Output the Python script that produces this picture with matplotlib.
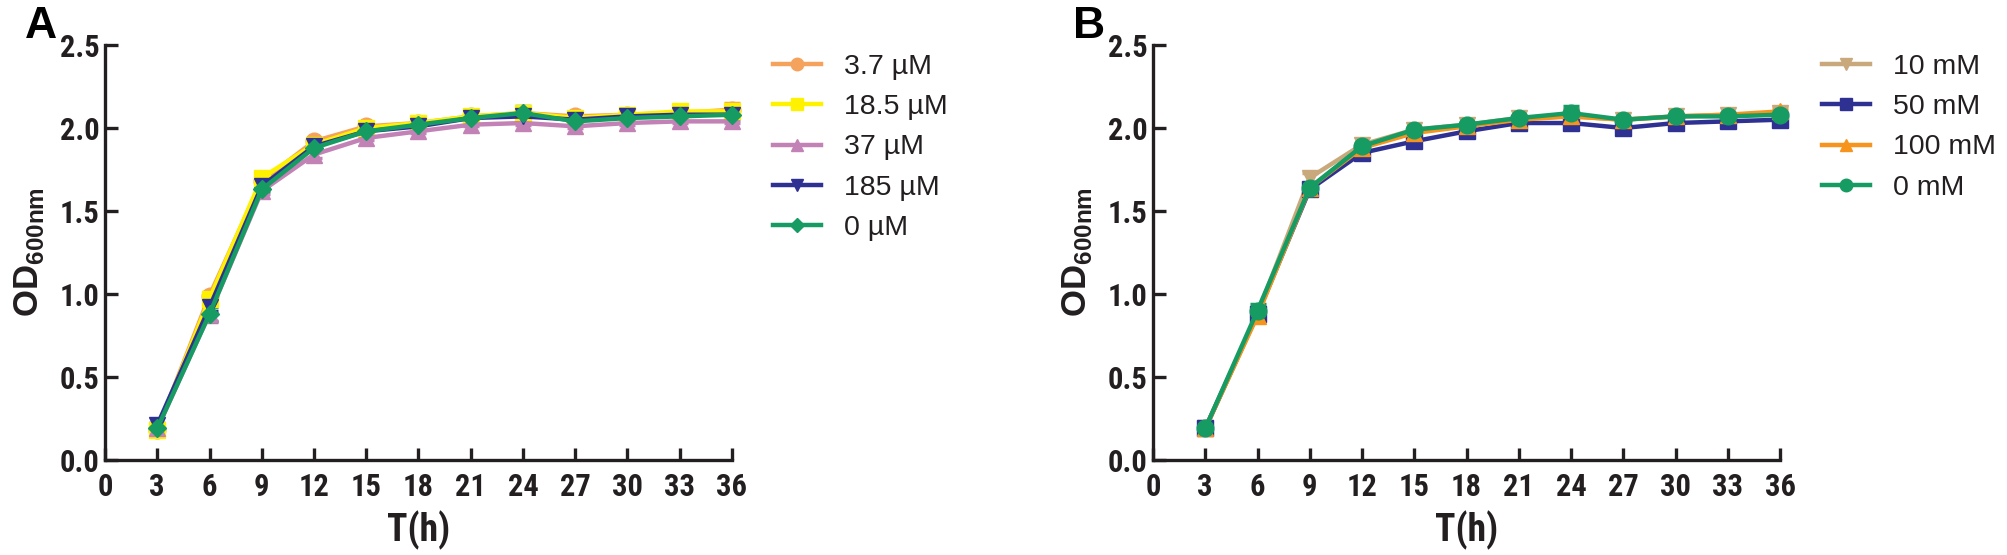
import matplotlib

matplotlib.use("agg")
import matplotlib.pyplot as plt
from matplotlib import font_manager

# time points (h)
hours = [3, 6, 9, 12, 15, 18, 21, 24, 27, 30, 33, 36]
x_ticks = list(range(0, 37, 3))
y_ticks = [0.0, 0.5, 1.0, 1.5, 2.0, 2.5]

# panel A
labels_a = ["3.7 µM", "18.5 µM", "37 µM", "185 µM", "0 µM"]
od_a_3_7 = [0.18, 0.99, 1.68, 1.92, 2.01, 2.03, 2.07, 2.09, 2.07, 2.08, 2.09, 2.11]
od_a_18_5 = [0.18, 0.97, 1.70, 1.90, 2.00, 2.03, 2.07, 2.09, 2.06, 2.08, 2.10, 2.10]
od_a_37 = [0.19, 0.88, 1.62, 1.84, 1.94, 1.98, 2.02, 2.03, 2.01, 2.03, 2.04, 2.04]
od_a_185 = [0.21, 0.92, 1.65, 1.89, 1.98, 2.01, 2.06, 2.07, 2.05, 2.07, 2.08, 2.08]
od_a_0 = [0.19, 0.88, 1.63, 1.88, 1.98, 2.02, 2.06, 2.09, 2.04, 2.06, 2.07, 2.08]
sd_a_3_7 = [0.01, 0.02, 0.02, 0.01, 0.01, 0.01, 0.01, 0.01, 0.01, 0.01, 0.01, 0.04]
sd_a_18_5 = [0.01, 0.02, 0.03, 0.01, 0.01, 0.01, 0.01, 0.01, 0.01, 0.01, 0.01, 0.01]
sd_a_37 = [0.01, 0.05, 0.02, 0.02, 0.01, 0.01, 0.01, 0.01, 0.01, 0.01, 0.01, 0.01]
sd_a_185 = [0.01, 0.02, 0.01, 0.01, 0.01, 0.01, 0.01, 0.01, 0.01, 0.01, 0.01, 0.01]
sd_a_0 = [0.01, 0.04, 0.01, 0.01, 0.01, 0.02, 0.01, 0.04, 0.01, 0.01, 0.01, 0.02]

# panel B
labels_b = ["10 mM", "50 mM", "100 mM", "0 mM"]
od_b_10 = [0.19, 0.88, 1.70, 1.90, 1.99, 2.02, 2.06, 2.07, 2.05, 2.07, 2.08, 2.09]
od_b_50 = [0.19, 0.88, 1.63, 1.85, 1.92, 1.98, 2.03, 2.03, 2.00, 2.03, 2.04, 2.05]
od_b_100 = [0.19, 0.87, 1.64, 1.88, 1.97, 2.01, 2.05, 2.07, 2.05, 2.07, 2.08, 2.10]
od_b_0 = [0.19, 0.90, 1.64, 1.89, 1.99, 2.02, 2.06, 2.09, 2.05, 2.07, 2.07, 2.08]
sd_b_10 = [0.01, 0.02, 0.03, 0.01, 0.01, 0.01, 0.01, 0.01, 0.01, 0.01, 0.01, 0.01]
sd_b_50 = [0.01, 0.02, 0.01, 0.02, 0.01, 0.01, 0.01, 0.01, 0.02, 0.01, 0.01, 0.01]
sd_b_100 = [0.01, 0.03, 0.01, 0.01, 0.01, 0.01, 0.01, 0.01, 0.01, 0.01, 0.01, 0.02]
sd_b_0 = [0.01, 0.04, 0.01, 0.01, 0.01, 0.01, 0.01, 0.04, 0.01, 0.01, 0.01, 0.01]

colors_a = ["#F5A25D", "#FFF200", "#C282B5", "#2E3192", "#169B62"]
markers_a = ["o", "s", "^", "v", "D"]
colors_b = ["#C9A97C", "#2E3192", "#F7941D", "#169B62"]
markers_b = ["v", "s", "^", "o"]

names = {f.name for f in font_manager.fontManager.ttflist}
narrow = "Liberation Sans"
for cand in ["Liberation Sans Narrow", "Roboto Condensed", "Open Sans Condensed"]:
    if cand in names:
        narrow = cand
        break

plt.rcParams["font.family"] = ["Liberation Sans", "DejaVu Sans"]
plt.rcParams["mathtext.fontset"] = "custom"
plt.rcParams["mathtext.rm"] = "Liberation Sans:bold"
plt.rcParams["mathtext.bf"] = "Liberation Sans:bold"
TXT = "#231F20"

W, H = 2007, 555
fig = plt.figure(figsize=(W / 100, H / 100), dpi=100)


def panel(left_px, series, sds, labels, colors, markers, letter, leg_x):
    ax = fig.add_axes([left_px / W, 1 - 460 / H, 627 / W, 415 / H])
    for od, sd, lab, c, m in zip(series, sds, labels, colors, markers):
        ms = 9 if m == "D" else 12
        ax.errorbar(hours, od, yerr=sd, color=c, marker=m, markersize=ms, lw=3.2,
                    elinewidth=2.5, capsize=6, capthick=2.5, label=lab, clip_on=False)
    ax.set_xlim(0, 36)
    ax.set_ylim(0, 2.5)
    ax.set_xticks(x_ticks)
    ax.set_yticks(y_ticks)
    ax.set_yticklabels([f"{v:.1f}" for v in y_ticks])
    for s in ["top", "right"]:
        ax.spines[s].set_visible(False)
    for s in ["left", "bottom"]:
        ax.spines[s].set_linewidth(2.4)
        ax.spines[s].set_color(TXT)
    ax.tick_params(axis="x", direction="in", length=9, width=2.4, pad=9, colors=TXT)
    ax.tick_params(axis="y", direction="in", length=9, width=2.4, pad=4, colors=TXT)
    for t in ax.get_xticklabels() + ax.get_yticklabels():
        t.set_fontfamily(narrow)
        t.set_fontweight("bold")
        t.set_fontsize(22)
    ax.set_xlabel("T(h)", fontfamily=narrow, fontweight="bold", fontsize=27, color=TXT, labelpad=6)
    ax.set_ylabel(r"$\mathrm{OD}_{\mathrm{600nm}}$", fontsize=25, color=TXT, labelpad=10)
    fig.text((left_px - 80) / W, 1 - 6 / H, letter, fontsize=32, fontweight="bold",
             color="black", ha="left", va="top")
    handles, labs = ax.get_legend_handles_labels()
    handles = [h[0] for h in handles]  # data line only, no error bars in the key
    leg = ax.legend(handles, labs, loc="upper left", bbox_to_anchor=(leg_x / W, 1 - 54 / H),
                    bbox_transform=fig.transFigure, frameon=False, fontsize=20.5,
                    handlelength=1.7, handletextpad=0.8, labelspacing=0.5,
                    borderpad=0, borderaxespad=0, markerscale=0.75)
    for t in leg.get_texts():
        t.set_color(TXT)
    return ax


panel(105, [od_a_3_7, od_a_18_5, od_a_37, od_a_185, od_a_0],
      [sd_a_3_7, sd_a_18_5, sd_a_37, sd_a_185, sd_a_0],
      labels_a, colors_a, markers_a, "A", 773)
panel(1153, [od_b_10, od_b_50, od_b_100, od_b_0],
      [sd_b_10, sd_b_50, sd_b_100, sd_b_0],
      labels_b, colors_b, markers_b, "B", 1822)

fig.savefig("out.png", dpi=100)
